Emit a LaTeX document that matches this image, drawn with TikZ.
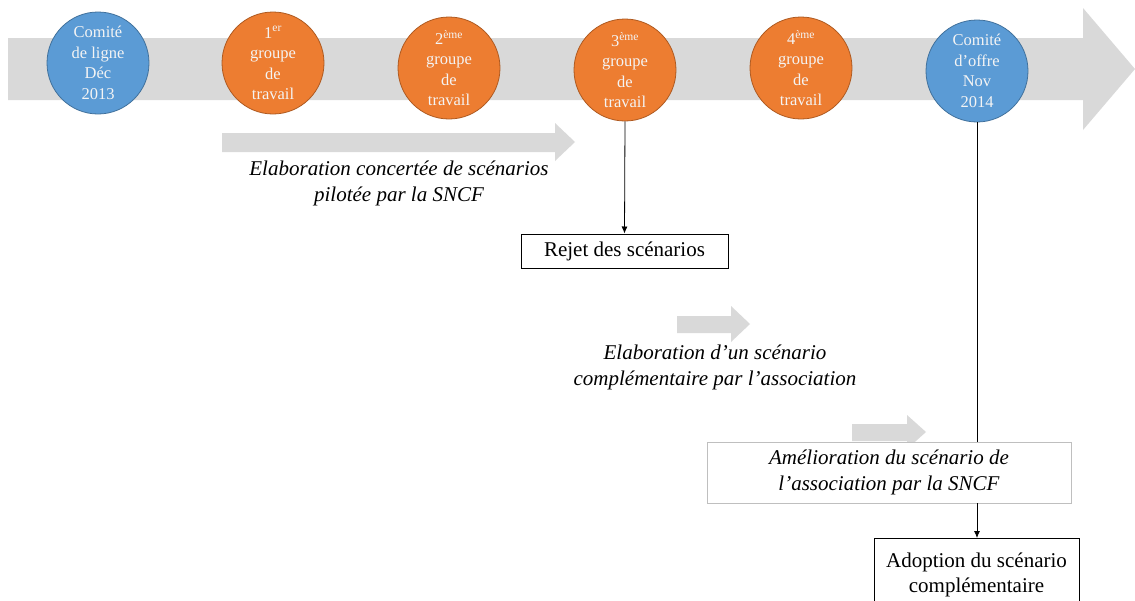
\documentclass[tikz,border=0pt]{standalone}
\usepackage{fontspec}
\setmainfont{Liberation Serif}
\usetikzlibrary{arrows.meta}
\definecolor{cblue}{HTML}{5B9BD5}
\definecolor{cblueb}{HTML}{41719C}
\definecolor{corange}{HTML}{ED7D31}
\definecolor{coranb}{HTML}{AE5A21}
\definecolor{agray}{HTML}{D9D9D9}
\definecolor{ctext}{HTML}{F4F4F4}
\definecolor{bgray}{HTML}{BFBFBF}
\tikzset{
  circ/.style={circle, draw, line width=0.8pt, minimum size=102pt, inner sep=0pt, align=center,
    text=ctext, font=\fontsize{16.5}{20.5}\selectfont},
  bluec/.style={circ, fill=cblue, draw=cblueb},
  orangec/.style={circ, fill=corange, draw=coranb},
  grayarrow/.style={fill=agray, draw=none},
  label/.style={align=center, font=\fontsize{21}{26}\selectfont\itshape},
  boxn/.style={draw=black, line width=1pt, fill=white, align=center, inner sep=0pt,
    font=\fontsize{21}{25}\selectfont},
  conn/.style={line width=0.8pt, -{Latex[length=7pt,width=6pt]}},
}
\begin{document}
\begin{tikzpicture}[x=1pt,y=-1pt]
\useasboundingbox (0,0) rectangle (1135,600);
% big timeline arrow
\fill[grayarrow] (8,38) -- (1083,38) -- (1083,8) -- (1135,69) -- (1083,130) -- (1083,100) -- (8,100) -- cycle;
% circles
\node[bluec] (c1) at (98,63) {Comité\\de ligne\\Déc\\2013};
\node[orangec] (c2) at (273,63) {1\textsuperscript{er}\\groupe\\de\\travail};
\node[orangec] (c3) at (449,68) {2\textsuperscript{ème}\\groupe\\de\\travail};
\node[orangec] (c4) at (625,70) {3\textsuperscript{ème}\\groupe\\de\\travail};
\node[orangec] (c5) at (801,68) {4\textsuperscript{ème}\\groupe\\de\\travail};
\node[bluec] (c6) at (977,71) {Comité\\d’offre\\Nov\\2014};
% arrow 1
\fill[grayarrow] (222,133) -- (555,133) -- (555,123) -- (575,142) -- (555,161) -- (555,152) -- (222,152) -- cycle;
\node[label] (t1) at (399,183) {Elaboration concertée de scénarios\\pilotée par la SNCF};
% rejet
\node[boxn, minimum width=207pt, minimum height=34pt] (rejet) at (624.5,251) {Rejet des scénarios};
\draw[conn] (c4.south) -- (rejet.north);
% arrow 2
\fill[grayarrow] (677,316) -- (731,316) -- (731,306) -- (750,324) -- (731,342) -- (731,333) -- (677,333) -- cycle;
\node[label] (t2) at (715,367) {Elaboration d’un scénario\\complémentaire par l’association};
% arrow 3
\fill[grayarrow] (852,424) -- (907,424) -- (907,415) -- (926,432) -- (907,449) -- (907,441) -- (852,441) -- cycle;
% amelioration box
\node[boxn, draw=bgray, line width=0.6pt, minimum width=364pt, minimum height=61pt,
  font=\fontsize{21}{26}\selectfont\itshape] (amel) at (889,472.5) {Amélioration du scénario de\\l’association par la SNCF};
% adoption box
\node[boxn, minimum width=205pt, minimum height=72pt, anchor=north] (adopt) at (976.5,538) {Adoption du scénario\\complémentaire};
\draw[line width=0.8pt] (c6.south) -- (c6.south |- amel.north);
\draw[conn] (c6.south |- amel.south) -- (c6.south |- adopt.north);
\end{tikzpicture}
\end{document}
